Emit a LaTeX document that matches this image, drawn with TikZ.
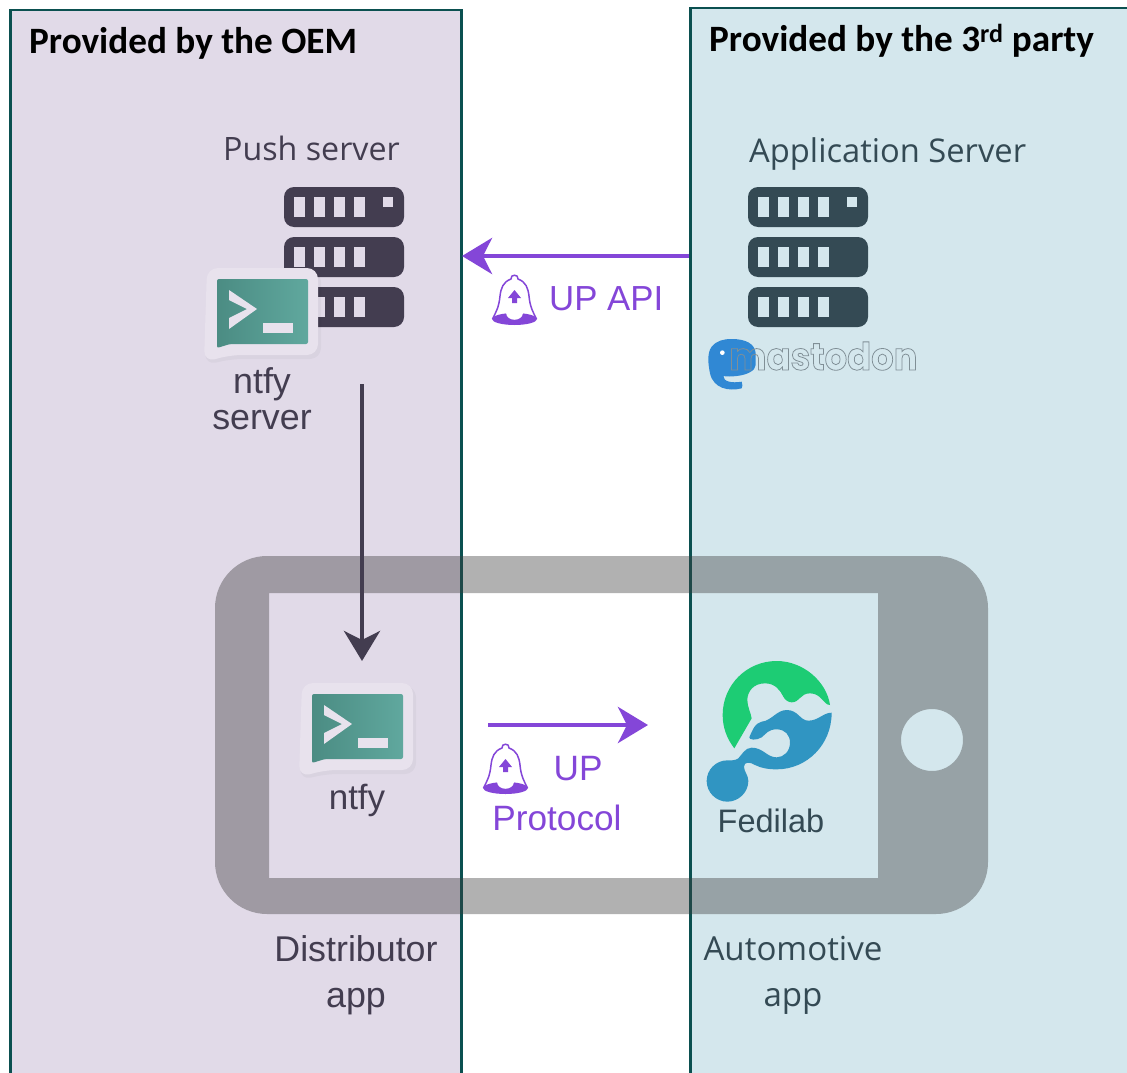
\documentclass[tikz,border=0pt]{standalone}
\usepackage{fontspec}
\setmainfont{Liberation Sans}
\newfontfamily\titlefont{Carlito}
\newfontfamily\labelfont{Open Sans}
\newfontfamily\logofont{Poppins}
\usetikzlibrary{arrows.meta}
\usetikzlibrary{positioning}

\definecolor{oemfill}{HTML}{E1DAE8}
\definecolor{partyfill}{HTML}{D4E7ED}
\definecolor{panelline}{HTML}{0B5050}
\definecolor{oemdark}{HTML}{433D50}
\definecolor{partydark}{HTML}{344A54}
\definecolor{upviolet}{HTML}{8446D8}
\definecolor{ntfyleft}{HTML}{4B8C83}
\definecolor{ntfyright}{HTML}{60A89E}
\definecolor{fediblue}{HTML}{3095C2}
\definecolor{fedigreen}{HTML}{1DCC74}
\definecolor{mastoblue}{HTML}{3088D4}
\definecolor{ntfyframe}{HTML}{E8E2ED}
\definecolor{phonegray}{HTML}{3C3C3C}

% #1 left edge, #2 rack colour, #3 window colour
\newcommand{\serverrack}[3]{
\foreach \rowy in {187,237,287}{
\fill[#2,rounded corners=10] (#1,\rowy) rectangle ++(120,40);
\foreach \slotx in {10,30,50,70}
\fill[#3] (#1+\slotx,\rowy+10) rectangle ++(10.7,20);
}
\fill[#3] (#1+99,197) rectangle ++(10,10);
}

% #1,#2 top left of the frame
\newcommand{\ntfyicon}[2]{
\begin{scope}[shift={(#1,#2)}]
\fill[black,opacity=0.03,rounded corners=11] (1,3) -- (-2,97) -- (25,91) -- (114,91) -- (114,3) -- cycle;
\fill[ntfyframe,rounded corners=11] (0,0) -- (-3,94) -- (24,87) -- (111,87) -- (111,0) -- cycle;
\shade[left color=ntfyleft,right color=ntfyright,rounded corners=2] (10,11) -- (10,80) -- (23,76) -- (101,76) -- (101,11) -- cycle;
\fill[ntfyframe] (22,22) -- (50,41) -- (22,61) -- (22,50) -- (40,41) -- (22,32) -- cycle;
\fill[ntfyframe] (56,55) rectangle ++(30,10);
\end{scope}
}

% #1,#2 top left of the bell
\newcommand{\upbell}[2]{
\begin{scope}[shift={(#1,#2)}]
\draw[upviolet,line width=1.5,fill=white] (19,5) .. controls (18,0) and (27,0) .. (26,5) .. controls (34,8) and (36,14) .. (37,22) .. controls (38,33) and (41,38) .. (44,44) -- (1,44) .. controls (4,38) and (7,33) .. (8,22) .. controls (9,14) and (11,8) .. (19,5) -- cycle;
\fill[upviolet] (22.5,45) ellipse (22.5 and 6);
\fill[white] (14,39) .. controls (15,48) and (30,48) .. (31,39) -- cycle;
\fill[upviolet] (22.5,16) -- (29,24) -- (25,24) -- (25,29) -- (20,29) -- (20,24) -- (16,24) -- cycle;
\end{scope}
}

\begin{document}
\begin{tikzpicture}[x=1pt,y=-1pt,
panel/.style={rectangle,draw=panelline,line width=2.5,anchor=north west,inner sep=0},
word/.style={inner sep=0,anchor=base west},
conn/.style={line width=4.6,-{Stealth[length=30,width=36,inset=9]}}]
\useasboundingbox (0,0) rectangle (1127,1073);

\node (oempanel) [panel,fill=oemfill,minimum width=451,minimum height=1085] at (9,9) {};
\node (partypanel) [panel,fill=partyfill,minimum width=460,minimum height=1085] at (689,7) {};

\path[fill=phonegray,fill opacity=0.4,even odd rule] [rounded corners=52] (215,556) rectangle (988,914) [sharp corners] (269,593) rectangle (878,878) (932,740) circle (31);

\node (oemtitle) [word,font=\titlefont\bfseries\fontsize{37.2}{40}\selectfont] at (29,54) {Provided by the OEM};
\node (partytitle) [word,font=\titlefont\bfseries\fontsize{37.2}{40}\selectfont] at (709,52) {Provided by the 3\textsuperscript{rd} party};

\node (pushlabel) [word,text=oemdark,font=\labelfont\fontsize{32.2}{36}\selectfont] at (223,160) {Push server};
\node (applabel) [word,text=partydark,font=\labelfont\fontsize{32.7}{36}\selectfont] at (749,162) {Application Server};

\serverrack{284}{oemdark}{oemfill}
\serverrack{748}{partydark}{partyfill}
\ntfyicon{207}{268}
\ntfyicon{302}{683}

\node (serverlabel) [text=oemdark,align=center,font=\fontsize{35.8}{36}\selectfont] at (262,399) {ntfy\\server};
\node (ntfylabel) [text=oemdark,font=\fontsize{35}{36}\selectfont] at (357,800) {ntfy};
\node (fedilabel) [text=partydark,font=\fontsize{32.5}{36}\selectfont] at (771,821) {Fedilab};
\node (distlabel) [text=oemdark,align=center,font=\fontsize{35.8}{46}\selectfont] at (356,975) {Distributor\\app};
\node (autolabel) [text=partydark,align=center,font=\labelfont\fontsize{33.1}{46}\selectfont] at (793,975) {Automotive\\app};

\upbell{492}{274}
\upbell{483}{743}
\node (apilabel) [word,text=upviolet,font=\fontsize{34.8}{40}\selectfont] at (549,310) {UP API};
\node (protolabel) [text=upviolet,align=center,font=\fontsize{35.2}{50}\selectfont] at (557,794) {\hspace*{1.2em}UP\\Protocol};

% mastodon logo
\begin{scope}[shift={(690,180)},scale=1/3]
\fill[mastoblue] (125,477) .. controls (165,477) and (195,490) .. (197,520) -- (197,555) .. controls (197,572) and (170,585) .. (140,588) .. controls (125,590) and (110,590) .. (100,588) .. controls (100,605) and (125,610) .. (155,605) .. controls (158,612) and (158,622) .. (155,625) .. controls (115,635) and (70,625) .. (60,580) .. controls (55,555) and (50,520) .. (65,500) .. controls (80,482) and (100,477) .. (125,477) -- cycle;
\fill[white] (97,518) circle (7);
\end{scope}
\node (mastolabel) [word,xscale=0.93,transform shape,font=\logofont\bfseries\fontsize{38}{40}\selectfont] at (729,370) {\special{pdf:code 1 Tr 0.8 w 0.5 0.56 0.59 RG}mastodon\special{pdf:code 0 Tr}};

% fedilab logo
\begin{scope}[shift={(470,650)},scale=1/3]
\fill[fedigreen] (793,295) .. controls (770,265) and (758,232) .. (758,195) .. controls (758,105) and (830,33) .. (920,33) .. controls (1000,33) and (1070,95) .. (1080,165) .. controls (1060,165) and (1055,130) .. (1020,130) .. controls (990,130) and (990,157) .. (965,157) .. controls (955,157) and (945,150) .. (940,140) .. controls (930,120) and (915,100) .. (885,100) .. controls (850,100) and (832,125) .. (832,150) .. controls (832,170) and (843,190) .. (845,205) -- cycle;
\fill[fediblue] (1085,188) .. controls (1060,188) and (1045,212) .. (1015,212) .. controls (990,212) and (985,180) .. (950,180) .. controls (920,180) and (905,212) .. (875,215) .. controls (855,218) and (845,245) .. (838,262) .. controls (836,270) and (860,272) .. (875,262) .. controls (890,250) and (895,238) .. (920,238) .. controls (945,238) and (960,255) .. (960,278) .. controls (960,305) and (940,322) .. (920,322) .. controls (890,322) and (880,293) .. (845,293) .. controls (825,293) and (815,315) .. (805,325) .. controls (795,332) and (785,331) .. (772,331) .. controls (738,331) and (710,359) .. (710,393) .. controls (710,427) and (738,455) .. (772,455) .. controls (806,455) and (835,427) .. (835,393) .. controls (835,375) and (822,365) .. (822,350) .. controls (822,335) and (840,335) .. (855,345) .. controls (875,355) and (895,358) .. (920,358) .. controls (1010,358) and (1085,285) .. (1085,188) -- cycle;
\end{scope}

\coordinate (apistart) at (partypanel.west |- 0,256);
\coordinate (apiend) at (462,256);
\coordinate (pushstart) at (362,384);
\coordinate (pushend) at (362,661);
\coordinate (protostart) at (488,725);
\coordinate (protoend) at (648,725);
\draw[conn,upviolet] (apistart) -- (apiend);
\draw[conn,oemdark] (pushstart) -- (pushend);
\draw[conn,upviolet] (protostart) -- (protoend);
\end{tikzpicture}
\end{document}
